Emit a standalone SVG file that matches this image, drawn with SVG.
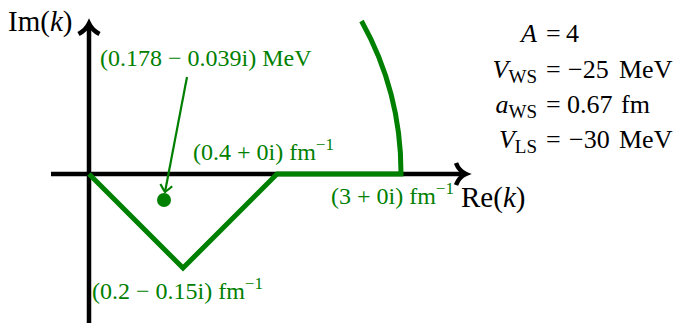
<svg xmlns="http://www.w3.org/2000/svg" width="680" height="323" viewBox="0 0 680 323">
<style>
text{font-family:"Liberation Serif","Times New Roman",serif}
.blk{font-size:26px;fill:#000}
.axl{font-size:29px;fill:#000}
.grn{font-size:24px;fill:#008000}
.it{font-style:italic}
.sub{font-size:19px}
.sup{font-size:17px}
.ax{stroke:#000;stroke-width:4.5;fill:none}
.gl{stroke:#008000;stroke-width:5;fill:none;stroke-linejoin:miter}
</style>
<defs>
<marker id="ga" markerUnits="userSpaceOnUse" markerWidth="20" markerHeight="20" refX="0" refY="0" viewBox="-10 -10 20 20" orient="auto" overflow="visible">
<path d="M-7,-6 Q-2,-2 0,0 Q-2,2 -7,6" fill="none" stroke="#008000" stroke-width="2.2"/>
</marker>
</defs>
<rect width="680" height="323" fill="#fff"/>
<g id="connectors">
<g id="axes">
<path class="ax" d="M89,323 L89,25"/>
<path class="ax" d="M78.5,34 Q86,30 89,23.5 Q92,30 99.5,34"/>
<path class="ax" d="M51,174 L465,174"/>
<path class="ax" d="M456,163 Q459,171 466,174 Q459,177 456,185"/>
</g>
<path id="contour" class="gl" d="M89,174 L183,268 L277,174 L401,174 A312,312 0 0 0 361.5,21"/>
<path id="pointer" d="M187,77 L165,192" stroke="#008000" stroke-width="2.2" fill="none" marker-end="url(#ga)"/>
</g>
<g id="pole"><circle cx="164" cy="200" r="7" fill="#008000"/></g>
<g id="im-label"><text class="axl" x="8" y="31">Im(<tspan class="it">k</tspan>)</text></g>
<g id="re-label"><text class="axl" x="461" y="207">Re(<tspan class="it">k</tspan>)</text></g>
<g id="pole-label"><text class="grn" x="100" y="66">(0.178 − 0.039i) MeV</text></g>
<g id="p1-label"><text class="grn" x="193" y="160">(0.4 + 0i) fm<tspan class="sup" dy="-10">−1</tspan></text></g>
<g id="p2-label"><text class="grn" x="331" y="204">(3 + 0i) fm<tspan class="sup" dy="-10">−1</tspan></text></g>
<g id="p0-label"><text class="grn" x="92" y="299">(0.2 − 0.15i) fm<tspan class="sup" dy="-10">−1</tspan></text></g>
<g id="params">
<text class="blk" x="537" y="42" text-anchor="end"><tspan class="it">A</tspan></text>
<text class="blk" x="546" y="42">=</text><text class="blk" x="566" y="42">4</text>
<text class="blk" x="537" y="78" text-anchor="end"><tspan class="it">V</tspan><tspan class="sub" dy="5">WS</tspan></text>
<text class="blk" x="546" y="78">=</text><text class="blk" x="568" y="78">−25</text><text class="blk" x="619" y="78">MeV</text>
<text class="blk" x="537" y="113" text-anchor="end"><tspan class="it">a</tspan><tspan class="sub" dy="5">WS</tspan></text>
<text class="blk" x="546" y="113">=</text><text class="blk" x="567" y="113">0.67</text><text class="blk" x="621" y="113">fm</text>
<text class="blk" x="537" y="148" text-anchor="end"><tspan class="it">V</tspan><tspan class="sub" dy="5">LS</tspan></text>
<text class="blk" x="546" y="148">=</text><text class="blk" x="569" y="148">−30</text><text class="blk" x="619" y="148">MeV</text>
</g>
</svg>
